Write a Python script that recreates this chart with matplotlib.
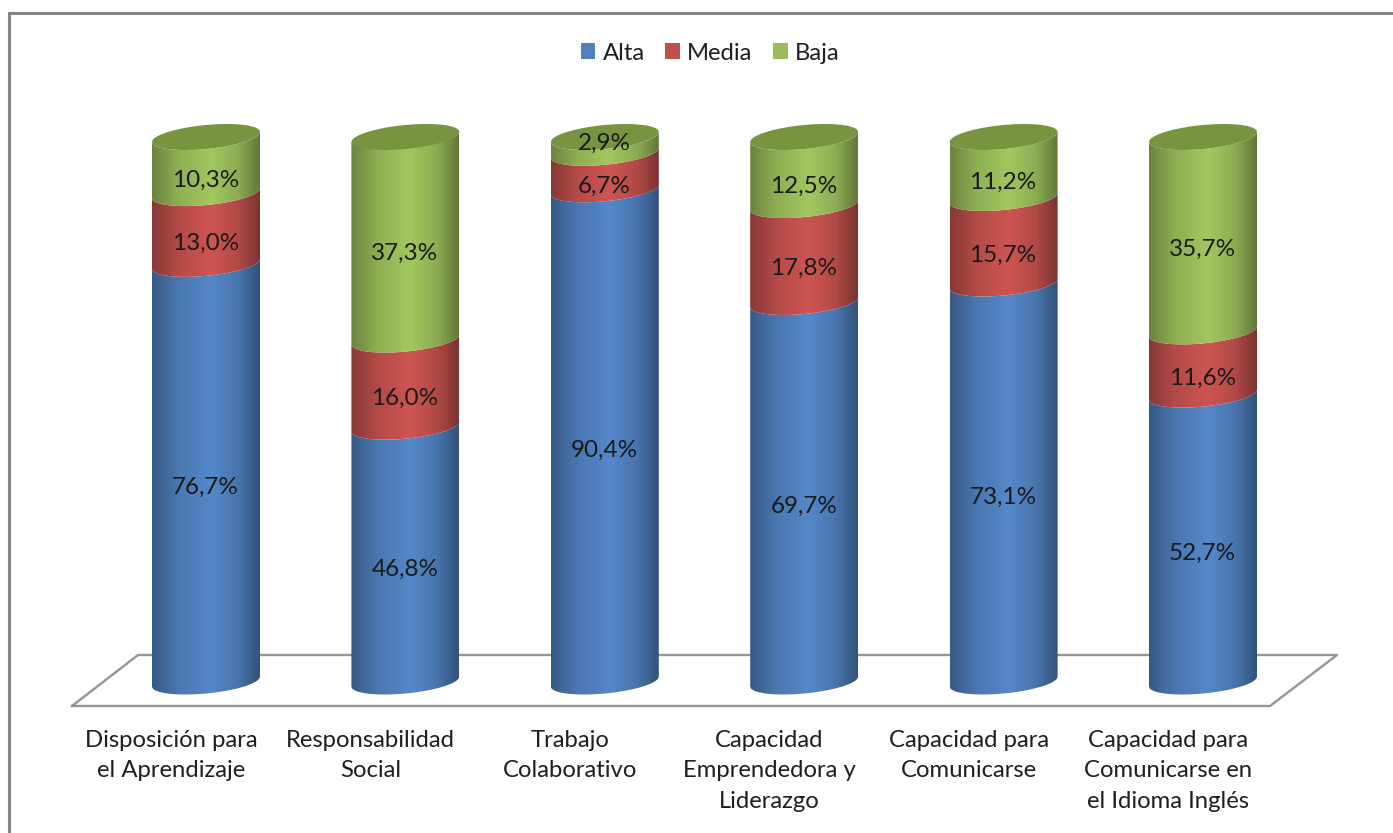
#!/usr/bin/env python
# -*- coding: utf-8 -*-
import numpy as np
import matplotlib
matplotlib.use('Agg')
import matplotlib.pyplot as plt
from matplotlib.colors import LinearSegmentedColormap, to_rgb
from matplotlib.patches import Patch, Polygon

categorias = ['Disposición para\nel Aprendizaje', 'Responsabilidad\nSocial',
              'Trabajo\nColaborativo', 'Capacidad\nEmprendedora y\nLiderazgo',
              'Capacidad para\nComunicarse', 'Capacidad para\nComunicarse en\nel Idioma Inglés']
alta = [76.7, 46.8, 90.4, 69.7, 73.1, 52.7]
media = [13.0, 16.0, 6.7, 17.8, 15.7, 11.6]
baja = [10.3, 37.3, 2.9, 12.5, 11.2, 35.7]
series = ['Alta', 'Media', 'Baja']
colores = ['#5488C9', '#CD5552', '#A3C75F']
leyenda = ['#4F81BD', '#C0504D', '#9BBB59']
color_tapa = '#78943F'

# echelle : pixels de l'image par categorie / par %
PX_X = 199.4
PX_Y = 5.445
X0 = 206
Y0 = 681.5
W, H = 1393, 833


def dx(px):
    return px / PX_X


def dy(px):
    return px / PX_Y


def bord_avant(x, v):
    # bord avant de l'ellipse (cylindre vu de dessus, un peu penche)
    u = np.clip(x / dx(54), -1, 1)
    return v + dy(5) * u - dy(12) * np.sqrt(1 - u ** 2)


def bord_arriere(x, v):
    u = np.clip(x / dx(54), -1, 1)
    return v + dy(5) * u + dy(12) * np.sqrt(1 - u ** 2)


def degrade(couleur):
    base = np.array(to_rgb(couleur))
    stops = [(0.0, 0.66), (0.25, 0.88), (0.55, 1.0), (0.8, 0.86), (1.0, 0.6)]
    return LinearSegmentedColormap.from_list('c', [(p, tuple(base * s)) for p, s in stops])


def creer_graphe():
    fig = plt.figure(figsize=(W / 100, H / 100), dpi=100)
    ax = fig.add_axes([0, 0, 1, 1])
    plt.rcParams['font.family'] = ['Lato', 'DejaVu Sans']
    xlim = (dx(-X0), dx(W - X0))
    ylim = (dy(Y0 - H), dy(Y0))

    # cadre
    ax.plot([dx(9 - X0)] * 2 + [dx(W - X0)], [dy(Y0 - H), dy(Y0 - 13), dy(Y0 - 13)],
            color='#868686', lw=2.2, solid_joinstyle='miter', zorder=1)

    # plancher
    fx = [dx(p - X0) for p in (72, 138, 1337, 1270, 72)]
    fy = [dy(Y0 - p) for p in (706, 655, 655, 706, 706)]
    ax.plot(fx, fy, color='#969696', lw=1.7, zorder=1)

    xs = np.linspace(-dx(54), dx(54), 200)
    grad = np.linspace(0, 1, 256).reshape(1, -1)
    valeurs = [alta, media, baja]
    for i in range(len(categorias)):
        bas = 0
        for s in range(3):
            v = valeurs[s][i]
            haut = bas + v
            poly = np.column_stack([np.r_[i + xs, i + xs[::-1]],
                                    np.r_[bord_avant(xs, bas), bord_avant(xs[::-1], haut)]])
            patch = Polygon(poly, closed=True, fc='none', ec='none', transform=ax.transData)
            ax.add_patch(patch)
            im = ax.imshow(grad, cmap=degrade(colores[s]), aspect='auto', zorder=2 + s * 0.1,
                           extent=(i - dx(54), i + dx(54), bas - dy(20), haut + dy(20)))
            im.set_clip_path(patch)
            # etiquette
            decale = dy(15) if v > 5 else dy(-2)
            ax.text(i - dx(0.5), bas + v / 2 - decale, f'{v:.1f}%'.replace('.', ','), ha='center',
                    va='center', fontsize=17.5, color='#1a1a1a', zorder=5)
            bas = haut
        tapa = np.column_stack([np.r_[i + xs, i + xs[::-1]],
                                np.r_[bord_avant(xs, 100), bord_arriere(xs[::-1], 100)]])
        ax.add_patch(Polygon(tapa, closed=True, fc=color_tapa, ec='none', zorder=3))

    for i, cat in enumerate(categorias):
        ax.text(i - dx(35), dy(Y0 - 730), cat, ha='center', va='top', fontsize=17.2,
                color='#1f1f1f', linespacing=1.55, zorder=5)

    poignees = [Patch(fc=c, ec='none') for c in leyenda]
    ax.legend(poignees, series, loc='center', ncol=3, frameon=False, fontsize=17.2,
              bbox_to_anchor=(dx(710 - X0), dy(Y0 - 53)), bbox_transform=ax.transData,
              handlelength=0.62, handleheight=0.62, handletextpad=0.3, columnspacing=0.85,
              labelcolor='#1f1f1f')

    ax.set_xlim(*xlim)
    ax.set_ylim(*ylim)
    ax.axis('off')
    fig.savefig('out.png', dpi=100)


if __name__ == '__main__':
    creer_graphe()
